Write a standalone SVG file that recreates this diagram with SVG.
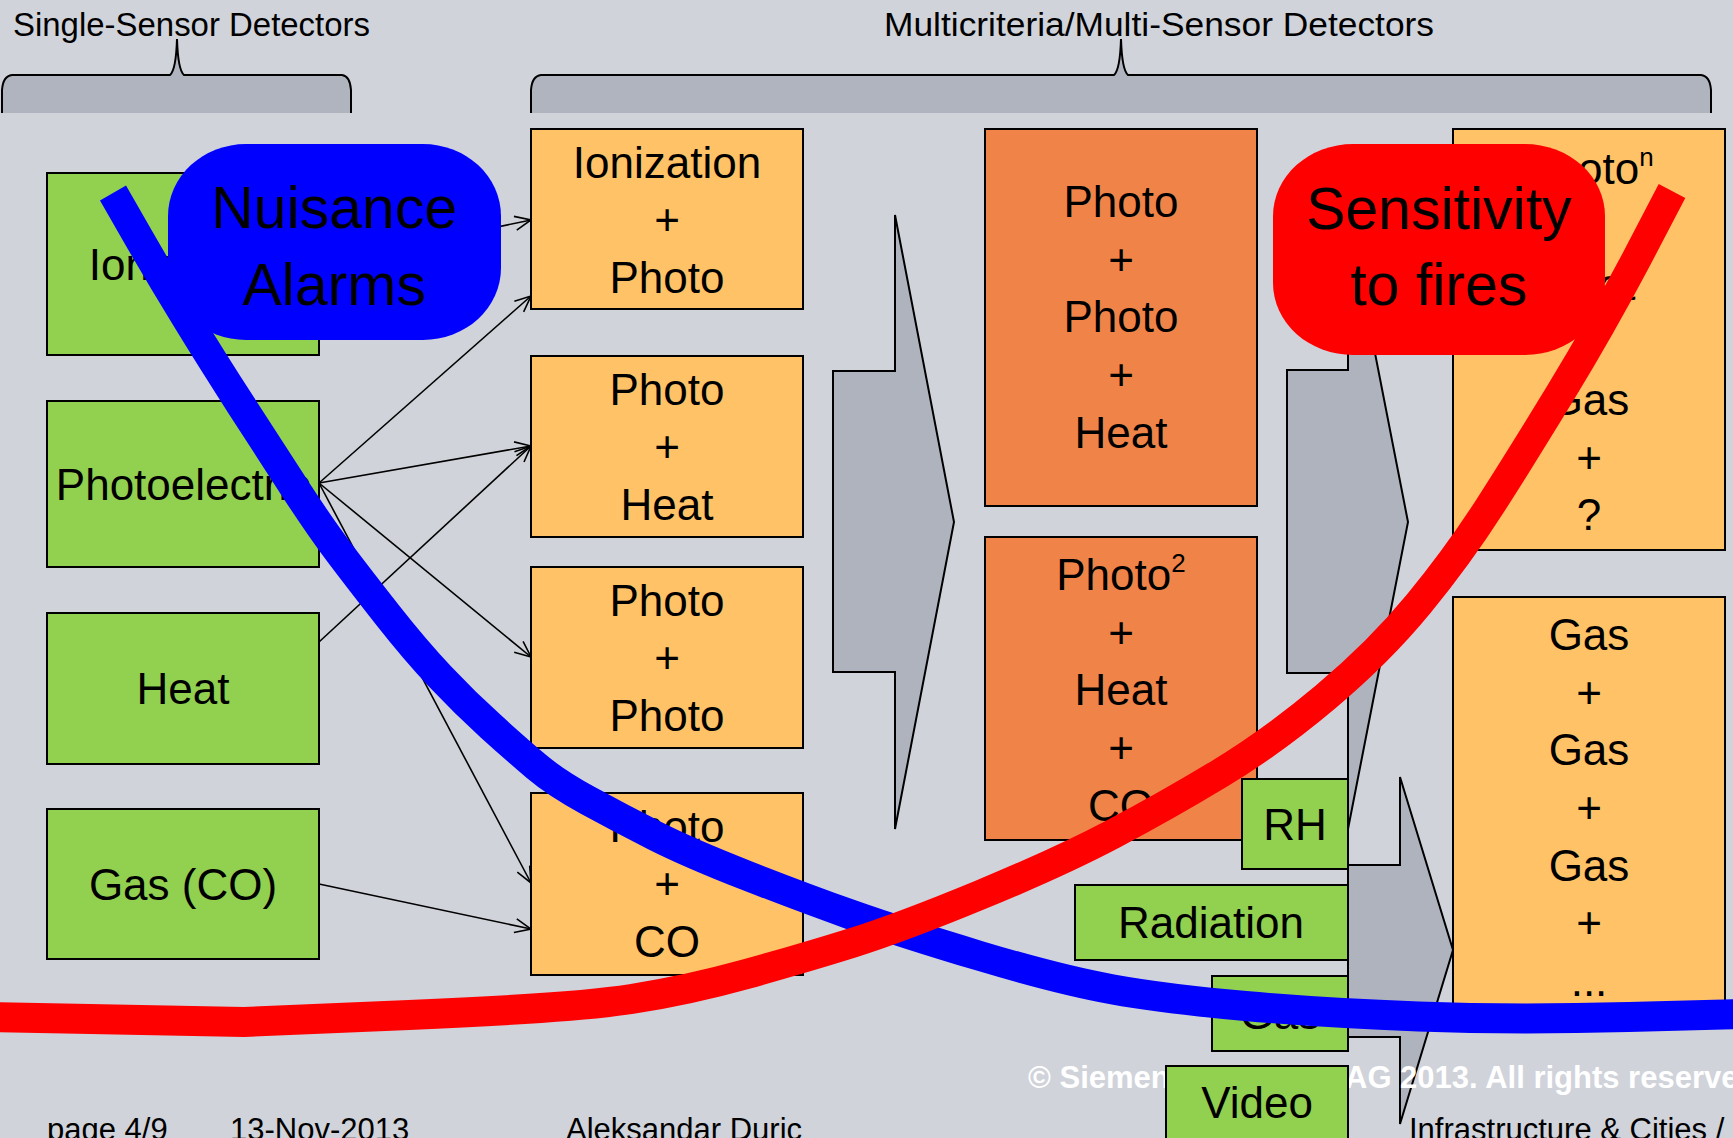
<svg xmlns="http://www.w3.org/2000/svg" width="1733" height="1138" viewBox="0 0 1733 1138">
<defs>
<style>
.txt{font-family:"Liberation Sans",Arial,sans-serif;fill:#000;text-anchor:middle}
.big{font-size:44px}
.hdr{font-size:33px}
.ftr{font-size:31px}
.bub{font-size:59px}
.copy{font-family:"Liberation Sans",Arial,sans-serif;font-size:31px;font-weight:bold;fill:#fff}
.green{fill:#92d050;stroke:#000;stroke-width:2}
.orange{fill:#ffc266;stroke:#000;stroke-width:2}
.dark{fill:#f08448;stroke:#000;stroke-width:2}
.garrow{fill:#afb3bd;stroke:#000;stroke-width:2;stroke-linejoin:miter}
.conn{stroke:#000;stroke-width:1.6;fill:none;marker-end:url(#arr)}
.curve{fill:none;stroke-width:30;stroke-linejoin:round;stroke-linecap:butt}
</style>
<marker id="arr" markerUnits="userSpaceOnUse" markerWidth="20" markerHeight="18" refX="17" refY="9" orient="auto">
<path d="M1,2 L17,9 L1,16" fill="none" stroke="#000" stroke-width="1.6"/>
</marker>
</defs>
<rect x="0" y="0" width="1733" height="1138" fill="#d0d3da"/>

<g id="brace-single">
<path d="M2,113 L2,90 Q3,76 12,75 L170,75 Q176,70 177,39 Q178,70 184,75 L342,75 Q350,76 351,90 L351,113 Z" fill="#b0b4be"/>
<path d="M2,113 L2,90 Q3,76 12,75 L170,75 Q176,70 177,39 Q178,70 184,75 L342,75 Q350,76 351,90 L351,113" fill="none" stroke="#000" stroke-width="2"/>
<text class="txt hdr" x="13" y="36" style="text-anchor:start" textLength="357" lengthAdjust="spacingAndGlyphs">Single-Sensor Detectors</text>
</g>
<g id="brace-multi">
<path d="M531,113 L531,90 Q532,76 541,75 L1114,75 Q1120,70 1121,39 Q1122,70 1128,75 L1701,75 Q1710,76 1711,90 L1711,113 Z" fill="#b0b4be"/>
<path d="M531,113 L531,90 Q532,76 541,75 L1114,75 Q1120,70 1121,39 Q1122,70 1128,75 L1701,75 Q1710,76 1711,90 L1711,113" fill="none" stroke="#000" stroke-width="2"/>
<text class="txt hdr" x="884" y="36" style="text-anchor:start" textLength="550" lengthAdjust="spacingAndGlyphs">Multicriteria/Multi-Sensor Detectors</text>
</g>

<g id="arrow1"><polygon class="garrow" points="833,371 895,371 895,215 954,522 895,829 895,672 833,672"/></g>
<g id="arrow2"><polygon class="garrow" points="1287,370 1348,370 1348,215 1408,522 1348,829 1348,673 1287,673"/></g>
<g id="arrow3"><polygon class="garrow" points="1348,865 1400,865 1400,777 1453,950 1400,1124 1400,1037 1348,1037"/></g>

<g id="copyright">
<text class="copy"><tspan x="1028" y="1088">© Siemens Schweiz </tspan><tspan x="1345" y="1088">AG 2013. All rights reserved.</tspan></text>
</g>

<g id="connectors">
<line class="conn" x1="319" y1="264" x2="531" y2="220"/>
<line class="conn" x1="319" y1="483" x2="531" y2="296"/>
<line class="conn" x1="319" y1="483" x2="531" y2="446"/>
<line class="conn" x1="319" y1="642" x2="531" y2="446"/>
<line class="conn" x1="319" y1="483" x2="531" y2="657"/>
<line class="conn" x1="319" y1="483" x2="531" y2="883"/>
<line class="conn" x1="319" y1="884" x2="531" y2="929"/>
</g>

<g id="n-ionization"><rect class="green" x="47" y="173" width="272" height="182"/><text class="txt big" x="183" y="280">Ionization</text></g>
<g id="n-photoelectric"><rect class="green" x="47" y="401" width="272" height="166"/><text class="txt big" x="183" y="500">Photoelectric</text></g>
<g id="n-heat"><rect class="green" x="47" y="613" width="272" height="151"/><text class="txt big" x="183" y="704">Heat</text></g>
<g id="n-gasco"><rect class="green" x="47" y="809" width="272" height="150"/><text class="txt big" x="183" y="900">Gas (CO)</text></g>

<g id="n-ion-photo"><rect class="orange" x="531" y="129" width="272" height="180"/>
<text class="txt big" x="667" y="178">Ionization</text><text class="txt big" x="667" y="235">+</text><text class="txt big" x="667" y="293">Photo</text></g>
<g id="n-photo-heat"><rect class="orange" x="531" y="356" width="272" height="181"/>
<text class="txt big" x="667" y="405">Photo</text><text class="txt big" x="667" y="462">+</text><text class="txt big" x="667" y="520">Heat</text></g>
<g id="n-photo-photo"><rect class="orange" x="531" y="567" width="272" height="181"/>
<text class="txt big" x="667" y="616">Photo</text><text class="txt big" x="667" y="673">+</text><text class="txt big" x="667" y="731">Photo</text></g>
<g id="n-photo-co"><rect class="orange" x="531" y="793" width="272" height="182"/>
<text class="txt big" x="667" y="842">Photo</text><text class="txt big" x="667" y="899">+</text><text class="txt big" x="667" y="957">CO</text></g>

<g id="n-pph"><rect class="dark" x="985" y="129" width="272" height="377"/>
<text class="txt big" x="1121" y="217">Photo</text><text class="txt big" x="1121" y="275">+</text><text class="txt big" x="1121" y="332">Photo</text><text class="txt big" x="1121" y="390">+</text><text class="txt big" x="1121" y="448">Heat</text></g>
<g id="n-p2hc"><rect class="dark" x="985" y="537" width="272" height="303"/>
<text class="txt big" x="1121" y="590">Photo<tspan font-size="26" dy="-18">2</tspan></text><text class="txt big" x="1121" y="648">+</text><text class="txt big" x="1121" y="705">Heat</text><text class="txt big" x="1121" y="763">+</text><text class="txt big" x="1121" y="821">CO</text></g>

<g id="n-photon"><rect class="orange" x="1453" y="129" width="272" height="421"/>
<text class="txt big" x="1589" y="184">Photo<tspan font-size="26" dy="-18">n</tspan></text><text class="txt big" x="1589" y="242">+</text><text class="txt big" x="1589" y="300">Heat</text><text class="txt big" x="1589" y="357">+</text><text class="txt big" x="1589" y="415">Gas</text><text class="txt big" x="1589" y="473">+</text><text class="txt big" x="1589" y="530">?</text></g>
<g id="n-gasgas"><rect class="orange" x="1453" y="597" width="272" height="420"/>
<text class="txt big" x="1589" y="650">Gas</text><text class="txt big" x="1589" y="708">+</text><text class="txt big" x="1589" y="765">Gas</text><text class="txt big" x="1589" y="823">+</text><text class="txt big" x="1589" y="881">Gas</text><text class="txt big" x="1589" y="938">+</text><text class="txt big" x="1589" y="996">...</text></g>

<g id="n-rh"><rect class="green" x="1242" y="779" width="106" height="90"/><text class="txt big" x="1295" y="840">RH</text></g>
<g id="n-radiation"><rect class="green" x="1075" y="885" width="273" height="75"/><text class="txt big" x="1211" y="938">Radiation</text></g>
<g id="n-gas"><rect class="green" x="1212" y="976" width="136" height="75"/><text class="txt big" x="1280" y="1029">Gas</text></g>
<g id="n-video"><rect class="green" x="1166" y="1066" width="182" height="80"/><text class="txt big" x="1257" y="1118">Video</text></g>

<g id="footer">
<text class="txt ftr" x="47" y="1140" style="text-anchor:start">page 4/9</text>
<text class="txt ftr" x="230" y="1140" style="text-anchor:start">13-Nov-2013</text>
<text class="txt ftr" x="566" y="1140" style="text-anchor:start">Aleksandar Duric</text>
<text class="txt ftr" x="1409" y="1140" style="text-anchor:start">Infrastructure &amp; Cities /</text>
</g>

<g id="bubble-nuisance"><rect x="168" y="144" width="333" height="196" rx="78" ry="72" fill="#0000ff"/>
<text class="txt bub" x="334" y="228">Nuisance</text><text class="txt bub" x="334" y="305">Alarms</text></g>
<g id="bubble-sensitivity"><rect x="1273" y="144" width="332" height="211" rx="80" ry="72" fill="#ff0000"/>
<text class="txt bub" x="1439" y="229">Sensitivity</text><text class="txt bub" x="1439" y="305">to fires</text></g>

<g id="curves">
<path class="curve" stroke="#0000ff" d="M113,193 L136.5,234 Q160,275 186,317.5 Q212,360 241,405 Q270,450 295,488.5 Q320,527 340,553.5 Q360,580 387.5,615 Q415,650 440,676.5 Q465,703 491,726.5 Q517,750 536.5,766.5 Q556,783 588,800.5 Q620,818 654.5,835.5 Q689,853 746.5,875.5 Q804,898 852,915 Q900,932 980,956 Q1060,980 1113,989.5 Q1166,999 1245.5,1006 Q1325,1013 1418.5,1016.5 Q1512,1020 1628.5,1017 L1745,1014"/>
<path class="curve" stroke="#ff0000" d="M-10,1017 L244,1022 L409,1015 Q574,1008 631.5,999 Q689,990 746.5,974 Q804,958 852,943 Q900,928 980,895 Q1060,862 1113,834 Q1166,806 1219,774 Q1272,742 1325.5,697 Q1379,652 1418.5,604 Q1458,556 1490,506 Q1522,456 1561,392 Q1600,328 1636,260 L1672,191"/>
</g>
</svg>
